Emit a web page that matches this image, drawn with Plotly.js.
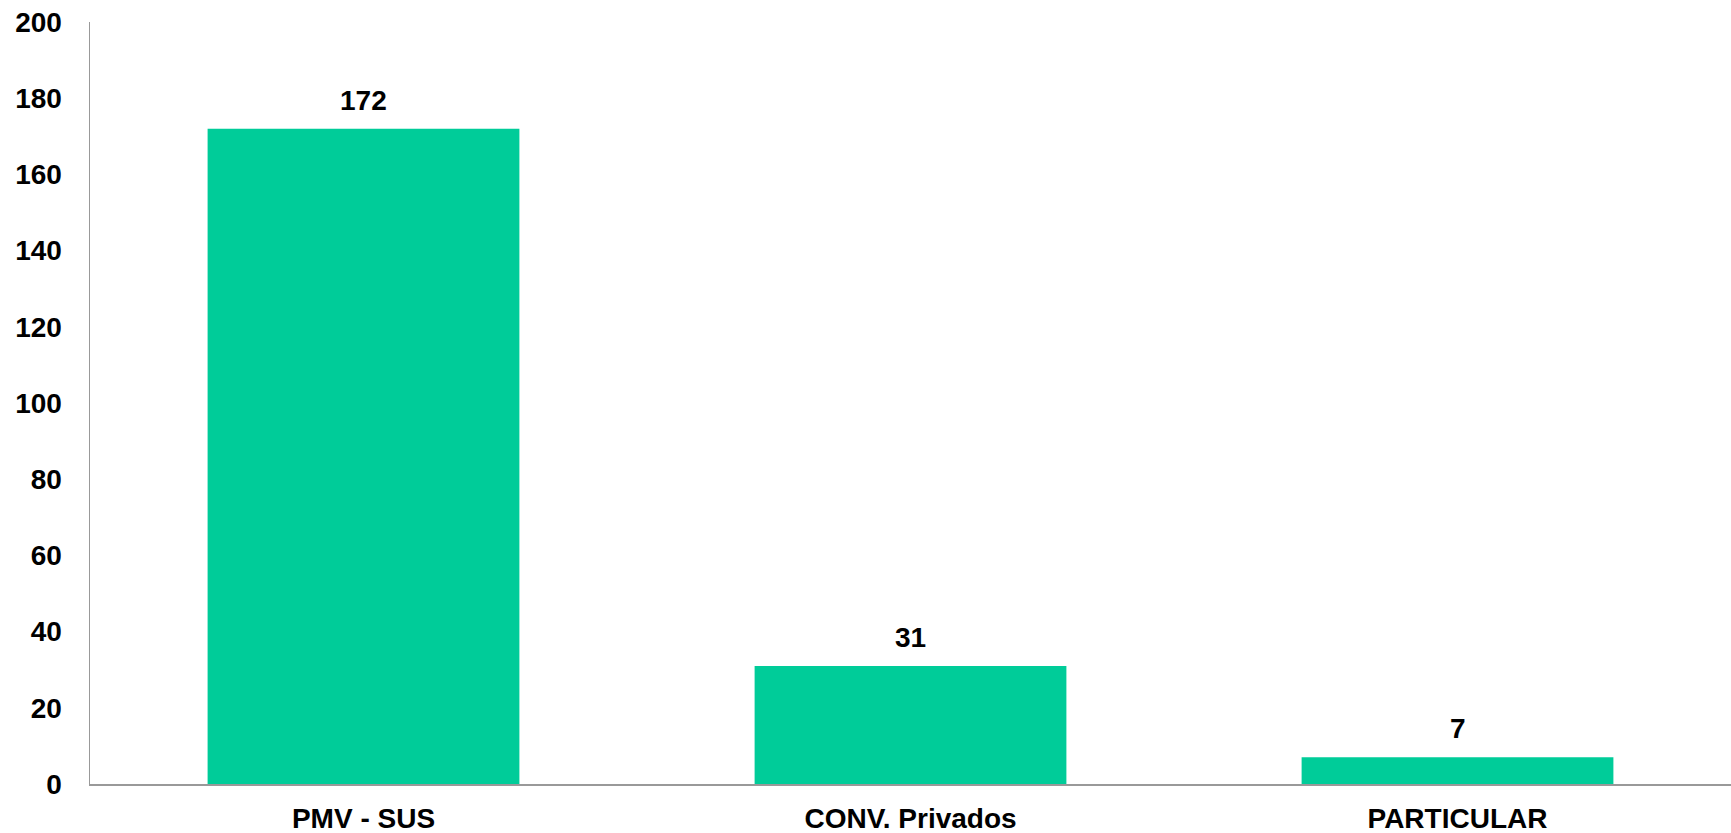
<!DOCTYPE html>
<html>
<head>
<meta charset="utf-8">
<script src="https://cdn.plot.ly/plotly-3.0.1.min.js"></script>
<style>html,body{margin:0;padding:0;background:#fff;}#chart{width:1731px;height:833px;}</style>
</head>
<body>
<div id="chart"></div>
<script>
const categories = ["PMV - SUS", "CONV. Privados", "PARTICULAR"];
const values = [172, 31, 7];
const yTicks = [0, 20, 40, 60, 80, 100, 120, 140, 160, 180, 200];

const font = {family: "Liberation Sans, Arial, sans-serif", size: 28, color: "#000"};

const trace = {
  type: "bar",
  x: categories,
  y: values,
  marker: {color: "#00CC99"},
  hoverinfo: "x+y"
};

const annotations = categories.map((c, i) => ({
  x: c, y: values[i], xref: "x", yref: "y",
  text: "<b>" + values[i] + "</b>",
  showarrow: false, yanchor: "bottom", yshift: 11,
  font: font
}));

const layout = {
  width: 1731, height: 833,
  margin: {l: 90, r: 0, t: 22, b: 49},
  paper_bgcolor: "#fff", plot_bgcolor: "#fff",
  bargap: 0.43,
  showlegend: false,
  font: font,
  xaxis: {
    type: "category",
    tickvals: categories,
    ticktext: categories.map(c => "<b>" + c + "</b>"),
    showline: true, linecolor: "#999", linewidth: 1.5,
    showgrid: false, zeroline: false, ticks: "",
    ticklabelstandoff: 9,
    tickfont: font
  },
  yaxis: {
    range: [0, 200],
    tickvals: yTicks,
    ticktext: yTicks.map(v => "<b>" + v + "</b>"),
    showline: true, linecolor: "#999", linewidth: 1.5,
    showgrid: false, zeroline: false, ticks: "",
    ticklabelstandoff: 21,
    tickfont: font
  },
  annotations: annotations
};

Plotly.newPlot("chart", [trace], layout, {displayModeBar: false, staticPlot: true});
</script>
</body>
</html>
